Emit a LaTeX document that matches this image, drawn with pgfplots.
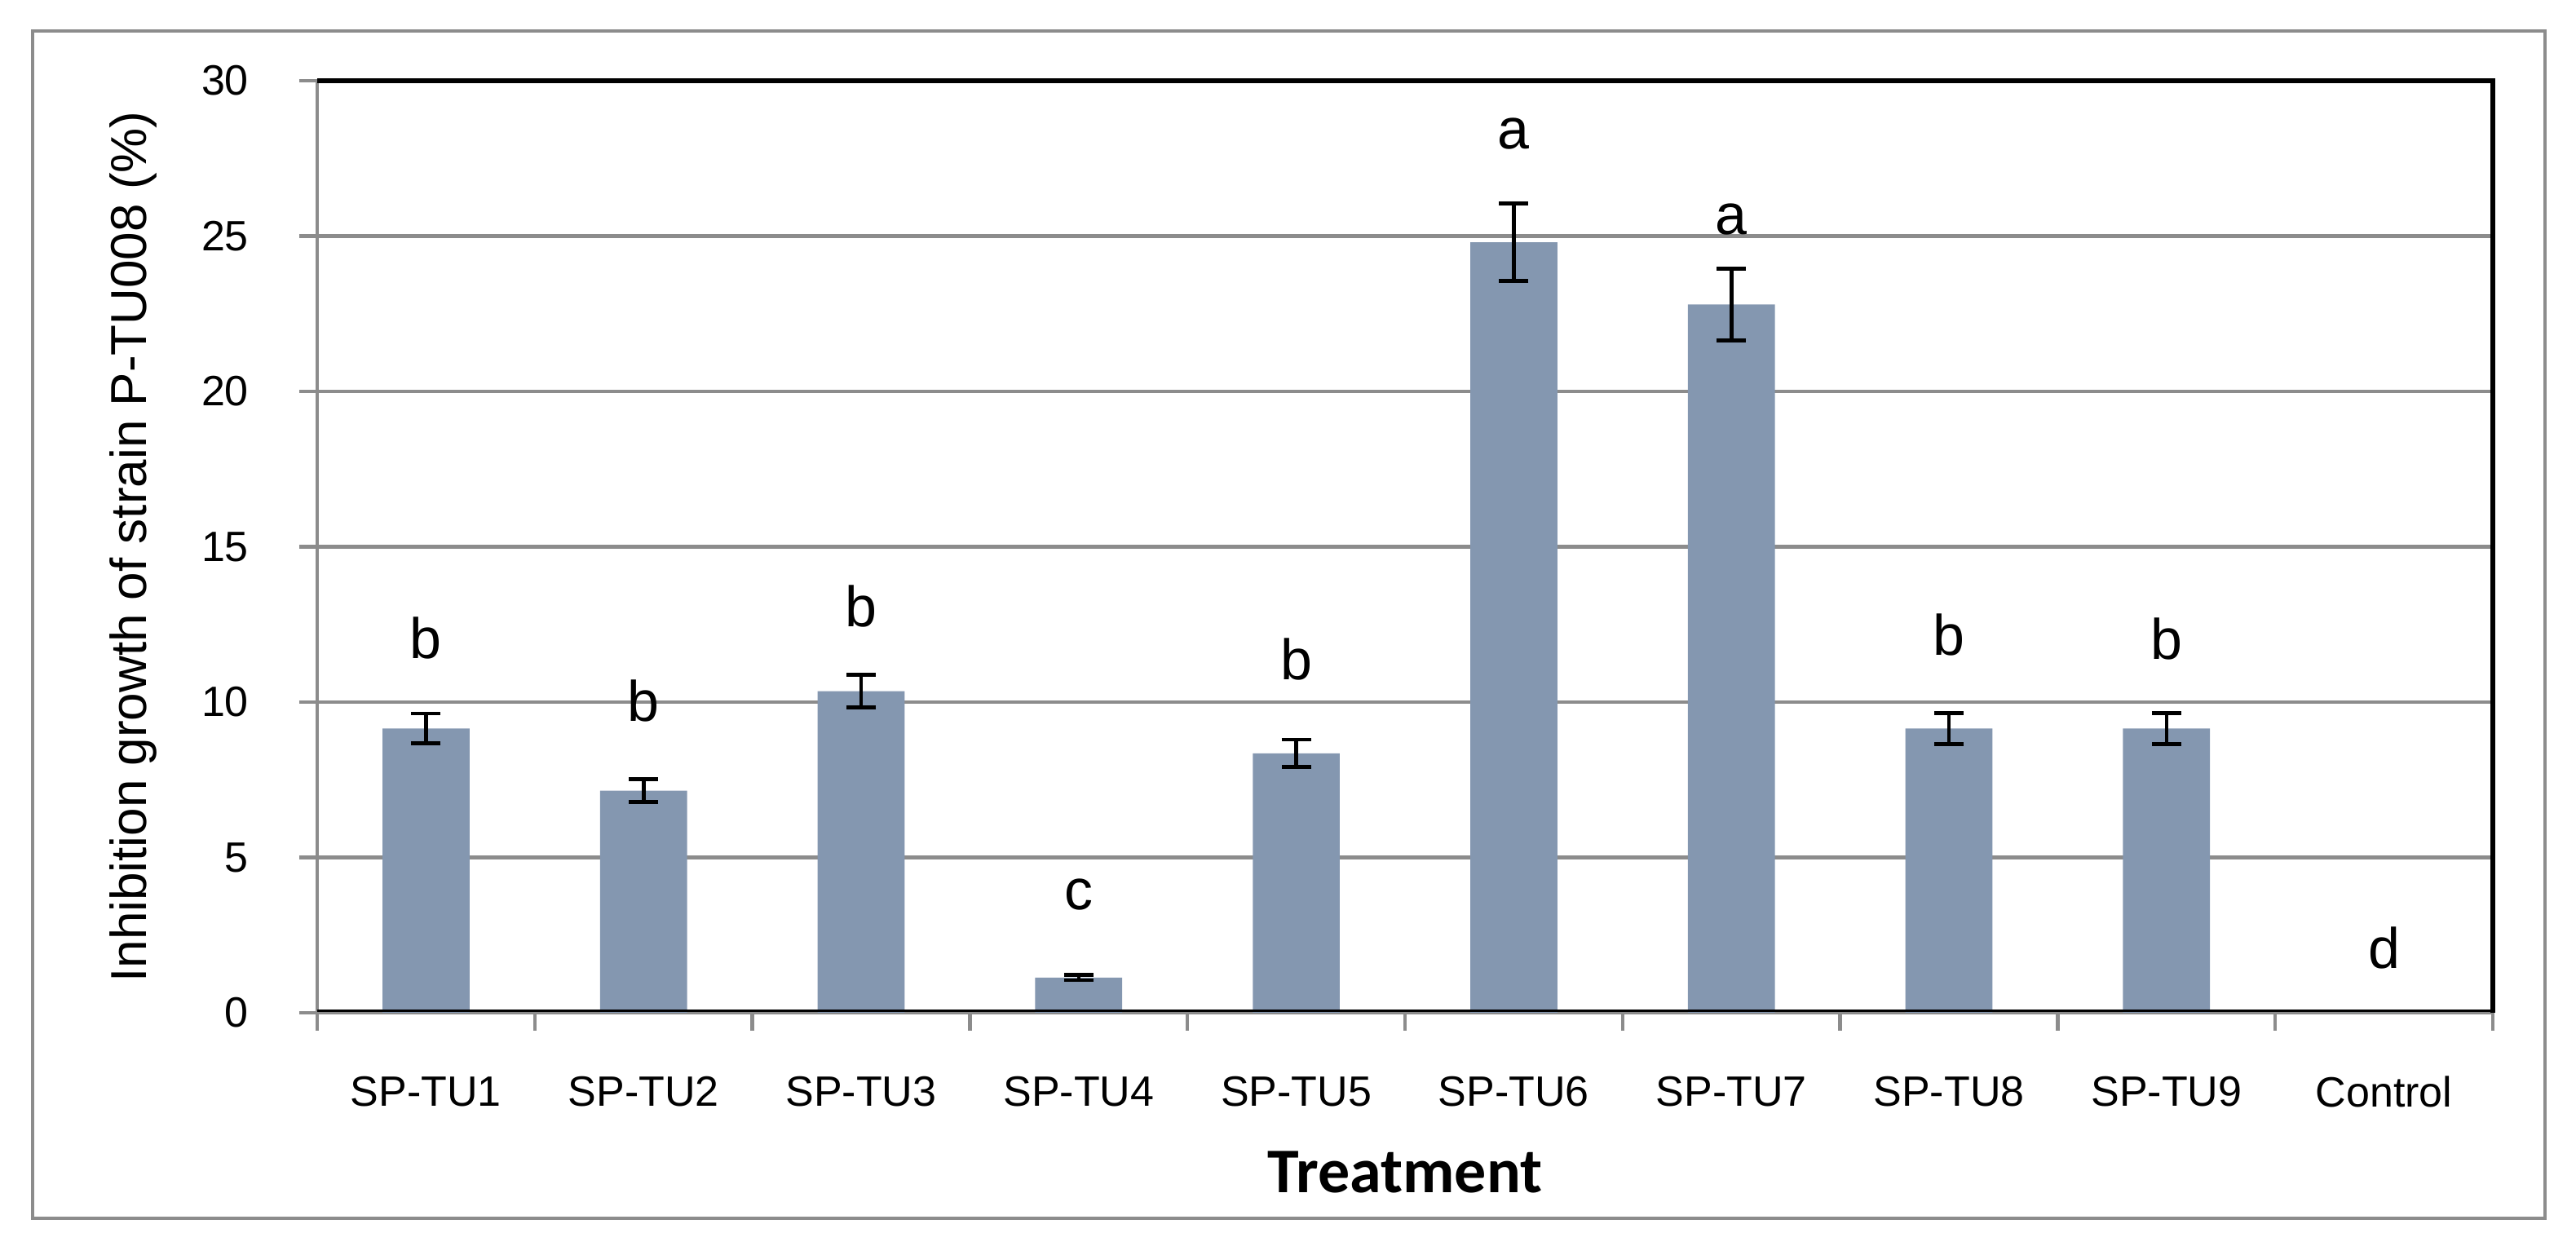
\documentclass[border=0pt]{standalone}
\usepackage{fontspec}
\setmainfont{Liberation Sans}
\newfontfamily\calibri{Carlito}
\usepackage{pgfplots}
\usepackage{pgfplotstable}
\pgfplotsset{compat=1.18}
\definecolor{barblue}{RGB}{132,151,176}
\definecolor{linegray}{RGB}{140,140,140}
\tikzset{letter/.style={anchor=base, font=\fontsize{17.5}{20}\selectfont}}

% mean inhibition (%) and error
\pgfplotstableread{
x y err
1 9.15 0.48
2 7.15 0.37
3 10.35 0.53
4 1.13 0.08
5 8.35 0.44
6 24.8 1.25
7 22.8 1.15
8 9.15 0.5
9 9.15 0.5
}\strains

\begin{document}
\begin{tikzpicture}
\begin{axis}[
    scale only axis, width=667pt, height=285.75pt,
    xmin=0.5, xmax=10.5, ymin=0, ymax=30,
    ytick={0,5,...,30},
    xtick={0.5,1.5,...,10.5}, xticklabels={},
    extra x ticks={1,2,...,10},
    extra x tick labels={SP-TU1,SP-TU2,SP-TU3,SP-TU4,SP-TU5,SP-TU6,SP-TU7,SP-TU8,SP-TU9,Control},
    extra x tick style={major tick length=0pt, grid=none},
    axis lines*=left,
    axis line style={-, linegray, line width=1.1pt},
    ymajorgrids, grid style={linegray, line width=1.1pt},
    tick align=outside, major tick length=5.5pt,
    tick style={linegray, line width=1.1pt},
    ticklabel style={font=\fontsize{13}{15}\selectfont},
    /pgf/number format/assume math mode=true,
    yticklabel style={anchor=east, xshift=-12pt},
    xticklabel style={anchor=north, yshift=-16pt},
    ybar, bar width=0.4, bar shift=0pt,
    clip=false,
]
\addplot[fill=barblue, draw=none,
    error bars/.cd, y dir=both, y explicit,
    error bar style={black, line width=1.15pt},
    error mark options={rotate=90, mark size=4.5pt, line width=1.2pt, black}]
    table[x=x, y=y, y error=err] \strains;
\addplot[fill=barblue, draw=none] coordinates {(10,0)};

\draw[black, line width=1.7pt] (rel axis cs:0,1) -- (rel axis cs:1,1) -- (rel axis cs:1,0);
\draw[black, line width=0.6pt] ([yshift=0.6pt]rel axis cs:0,0) -- ([yshift=0.6pt]rel axis cs:1,0);

\node[letter] at (axis cs:1,11.4) {b};
\node[letter] at (axis cs:2,9.39) {b};
\node[letter] at (axis cs:3,12.43) {b};
\node[letter] at (axis cs:4,3.33) {c};
\node[letter] at (axis cs:5,10.72) {b};
\node[letter] at (axis cs:6,27.8) {a};
\node[letter] at (axis cs:7,25.04) {a};
\node[letter] at (axis cs:8,11.5) {b};
\node[letter] at (axis cs:9,11.38) {b};
\node[letter] at (axis cs:10,1.42) {d};

\node[rotate=90, anchor=base, font=\fontsize{15.5}{18}\selectfont]
    at ([xshift=-52.25pt]rel axis cs:0,0.5) {Inhibition growth of strain P-TU008 (\%)};
\node[anchor=base, font=\calibri\bfseries\fontsize{19.5}{22}\selectfont]
    at ([yshift=-55.25pt]rel axis cs:0.5,0) {Treatment};

\draw[linegray, line width=1.1pt] ([xshift=-87.25pt,yshift=-63pt]rel axis cs:0,0)
    rectangle ([xshift=16pt,yshift=15.25pt]rel axis cs:1,1);
\coordinate (pagebl) at ([xshift=-97.25pt,yshift=-71.5pt]rel axis cs:0,0);
\coordinate (pagetr) at ([xshift=25.5pt,yshift=24.75pt]rel axis cs:1,1);
\end{axis}
\pgfresetboundingbox
\path (pagebl) rectangle (pagetr);
\end{tikzpicture}
\end{document}
